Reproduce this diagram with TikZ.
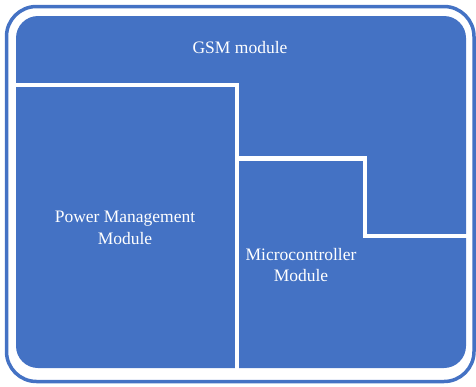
\documentclass[tikz,border=0pt]{standalone}
\usepackage{fontspec}
\setmainfont{Liberation Serif}
\usepackage{xcolor}
\definecolor{modblue}{HTML}{4472C4}

\begin{document}
\begin{tikzpicture}[x=1pt, y=-1pt,
    frame/.style={draw=modblue, line width=3.5pt, rounded corners=30pt},
    panel/.style={fill=modblue, rounded corners=22pt},
    divider/.style={draw=white, line width=4.5pt},
    modlbl/.style={align=center, text=white, font=\fontsize{17.5}{21.5}\selectfont}
]
\useasboundingbox (0,0) rectangle (476,386);

% Outer frame and panel
\draw[frame] (6.5,6.5) rectangle (474,381.5);
\fill[panel] (16,16) rectangle (466,368);

% Module borders
\draw[divider] (12,85) -- (237,85) -- (237,370);
\draw[divider] (237,158.5) -- (365,158.5) -- (365,236) -- (468,236);

% Labels
\node[modlbl] (gsm) at (240,48) {GSM module};
\node[modlbl] (power) at (125,228) {Power Management\\Module};
\node[modlbl] (micro) at (301,265) {Microcontroller\\Module};
\end{tikzpicture}
\end{document}
